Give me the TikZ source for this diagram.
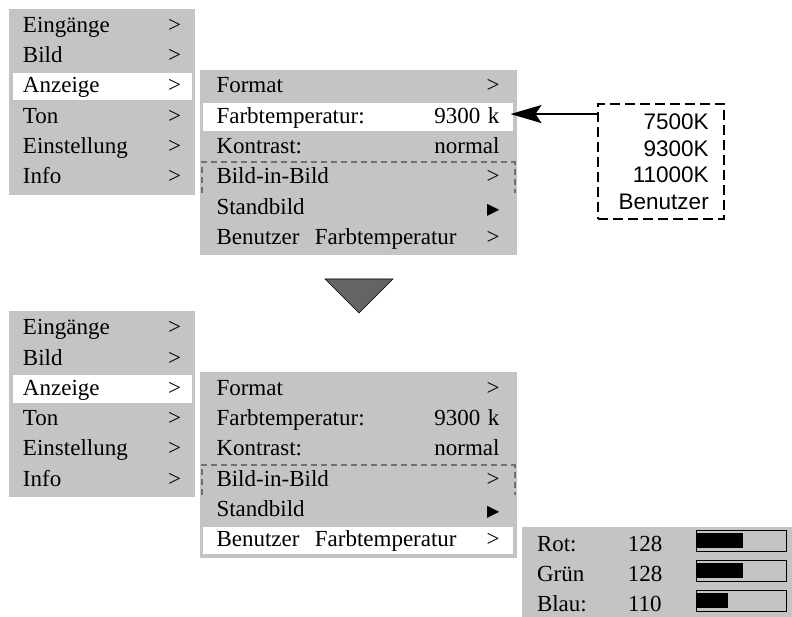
\documentclass[tikz,border=0pt]{standalone}
\usepackage{fontspec}
\setmainfont{Liberation Serif}
\newfontfamily\optfont{Liberation Sans}
\newfontfamily\symfont{DejaVu Sans}
\usepackage{tikz}
\usetikzlibrary{arrows.meta,positioning,fit,backgrounds}

\definecolor{menugray}{RGB}{196,196,196}
\definecolor{sepgray}{RGB}{112,112,112}
\definecolor{tipgray}{RGB}{100,100,100}
\setlength{\parindent}{0pt}
\newcommand{\menusize}{\fontsize{23}{27.6}\selectfont}
\newcommand{\push}{\hspace{0pt plus 1filll}}

\begin{document}
\begin{tikzpicture}[x=1pt,y=-1pt,
  menu bg/.style={fill=menugray,inner sep=2pt},
  main row/.style={minimum width=182pt,minimum height=30.3pt,inner xsep=12pt,inner ysep=0pt,
    text width=158pt,text height=16pt,text depth=3.5pt,outer sep=0pt,font=\menusize},
  sub row/.style={main row,minimum width=313pt,inner xsep=15pt,text width=283pt},
  rgb row/.style={main row,minimum width=165pt,minimum height=30pt,inner xsep=15pt,text width=135pt},
  picked/.style={fill=white,draw=menugray,line width=3pt},
  sep line/.style={draw=sepgray,line width=2pt,dash pattern=on 6pt off 4pt},
  opt box/.style={draw,line width=2.5pt,dash pattern=on 10pt off 5pt,minimum width=126pt,
    minimum height=115pt,text width=96pt,align=right,font=\optfont\fontsize{22.5}{26.5}\selectfont},
  pointer/.style={-{Stealth[length=31pt,width=18pt,inset=6pt]},line width=2.2pt,shorten >=-4pt},
  turn mark/.style={fill=tipgray,draw=black,line width=0.6pt},
  level bar/.style={draw,line width=1pt,minimum width=90pt,minimum height=21pt,inner sep=0pt,outer sep=0pt}]

  \useasboundingbox (0,0) rectangle (792,617);

  % upper menu
  \node[main row,anchor=north west] (m1a) at (11,11) {Eingänge\push>};
  \node[main row,below=0pt of m1a] (m1b) {Bild\push>};
  \node[main row,picked,below=0pt of m1b] (m1c) {Anzeige\push>};
  \node[main row,below=0pt of m1c] (m1d) {Ton\push>};
  \node[main row,below=0pt of m1d] (m1e) {Einstellung\push>};
  \node[main row,below=0pt of m1e] (m1f) {Info\push>};

  \node[sub row,right=8.5pt of m1c.north east,anchor=north west] (s1a) {Format\push>};
  \node[sub row,picked,below=0pt of s1a] (s1b) {Farbtemperatur:\push 9300 k};
  \node[sub row,below=0pt of s1b] (s1c) {Kontrast:\push normal};
  \node[sub row,below=0pt of s1c] (s1d) {Bild-in-Bild\push>};
  \node[sub row,below=0pt of s1d] (s1e) {Standbild\push{\symfont\fontsize{16}{16}\selectfont ▶}};
  \node[sub row,below=0pt of s1e] (s1f) {Benutzer\ \ Farbtemperatur\push>};

  \draw[sep line] (s1d.south west) -- (s1d.north west) -- (s1d.north east) -- (s1d.south east);

  \node[opt box,right=82pt of s1b.north east,anchor=north west,yshift=-1pt] (opts)
    {7500K\\9300K\\11000K\\Benutzer};
  \coordinate[yshift=3pt] (optin) at (s1b.east -| opts.west);
  \draw[pointer] (optin) -- (optin -| s1b.east);

  \draw[turn mark] (325,279) -- (393,279) -- (359,313) -- cycle;

  % lower menu
  \node[main row,below=120.5pt of m1f] (m2a) {Eingänge\push>};
  \node[main row,below=0pt of m2a] (m2b) {Bild\push>};
  \node[main row,picked,below=0pt of m2b] (m2c) {Anzeige\push>};
  \node[main row,below=0pt of m2c] (m2d) {Ton\push>};
  \node[main row,below=0pt of m2d] (m2e) {Einstellung\push>};
  \node[main row,below=0pt of m2e] (m2f) {Info\push>};

  \node[sub row,right=8.5pt of m2c.north east,anchor=north west] (s2a) {Format\push>};
  \node[sub row,below=0pt of s2a] (s2b) {Farbtemperatur:\push 9300 k};
  \node[sub row,below=0pt of s2b] (s2c) {Kontrast:\push normal};
  \node[sub row,below=0pt of s2c] (s2d) {Bild-in-Bild\push>};
  \node[sub row,below=0pt of s2d] (s2e) {Standbild\push{\symfont\fontsize{16}{16}\selectfont ▶}};
  \node[sub row,picked,below=0pt of s2e] (s2f) {Benutzer\ \ Farbtemperatur\push>};

  \draw[sep line] (s2d.south west) -- (s2d.north west) -- (s2d.north east) -- (s2d.south east);

  \node[rgb row,right=7.5pt of s2f.north east,anchor=north west,yshift=-4.6pt] (rot) {\makebox[91pt][l]{Rot:}128};
  \node[rgb row,below=0pt of rot] (gruen) {\makebox[91pt][l]{Grün}128};
  \node[rgb row,below=0pt of gruen] (blau) {\makebox[91pt][l]{Blau:}110};

  \node[level bar,right=9pt of rot,yshift=4.5pt] (rotbar) {};
  \node[level bar,right=9pt of gruen,yshift=4.5pt] (gruenbar) {};
  \node[level bar,right=9pt of blau,yshift=4.5pt] (blaubar) {};
  \fill ([shift={(1pt,3pt)}]rotbar.south west) rectangle ([shift={(47pt,-3pt)}]rotbar.north west);
  \fill ([shift={(1pt,3pt)}]gruenbar.south west) rectangle ([shift={(47pt,-3pt)}]gruenbar.north west);
  \fill ([shift={(1pt,3pt)}]blaubar.south west) rectangle ([shift={(32pt,-3pt)}]blaubar.north west);

  \begin{scope}[on background layer]
    \node[menu bg,fit=(m1a)(m1f)] (m1) {};
    \node[menu bg,fit=(s1a)(s1f)] (s1) {};
    \node[menu bg,fit=(m2a)(m2f)] (m2) {};
    \node[menu bg,fit=(s2a)(s2f)] (s2) {};
    \fill[menugray] ([yshift=3pt]rot.north west) rectangle (792,617);
  \end{scope}
\end{tikzpicture}
\end{document}
